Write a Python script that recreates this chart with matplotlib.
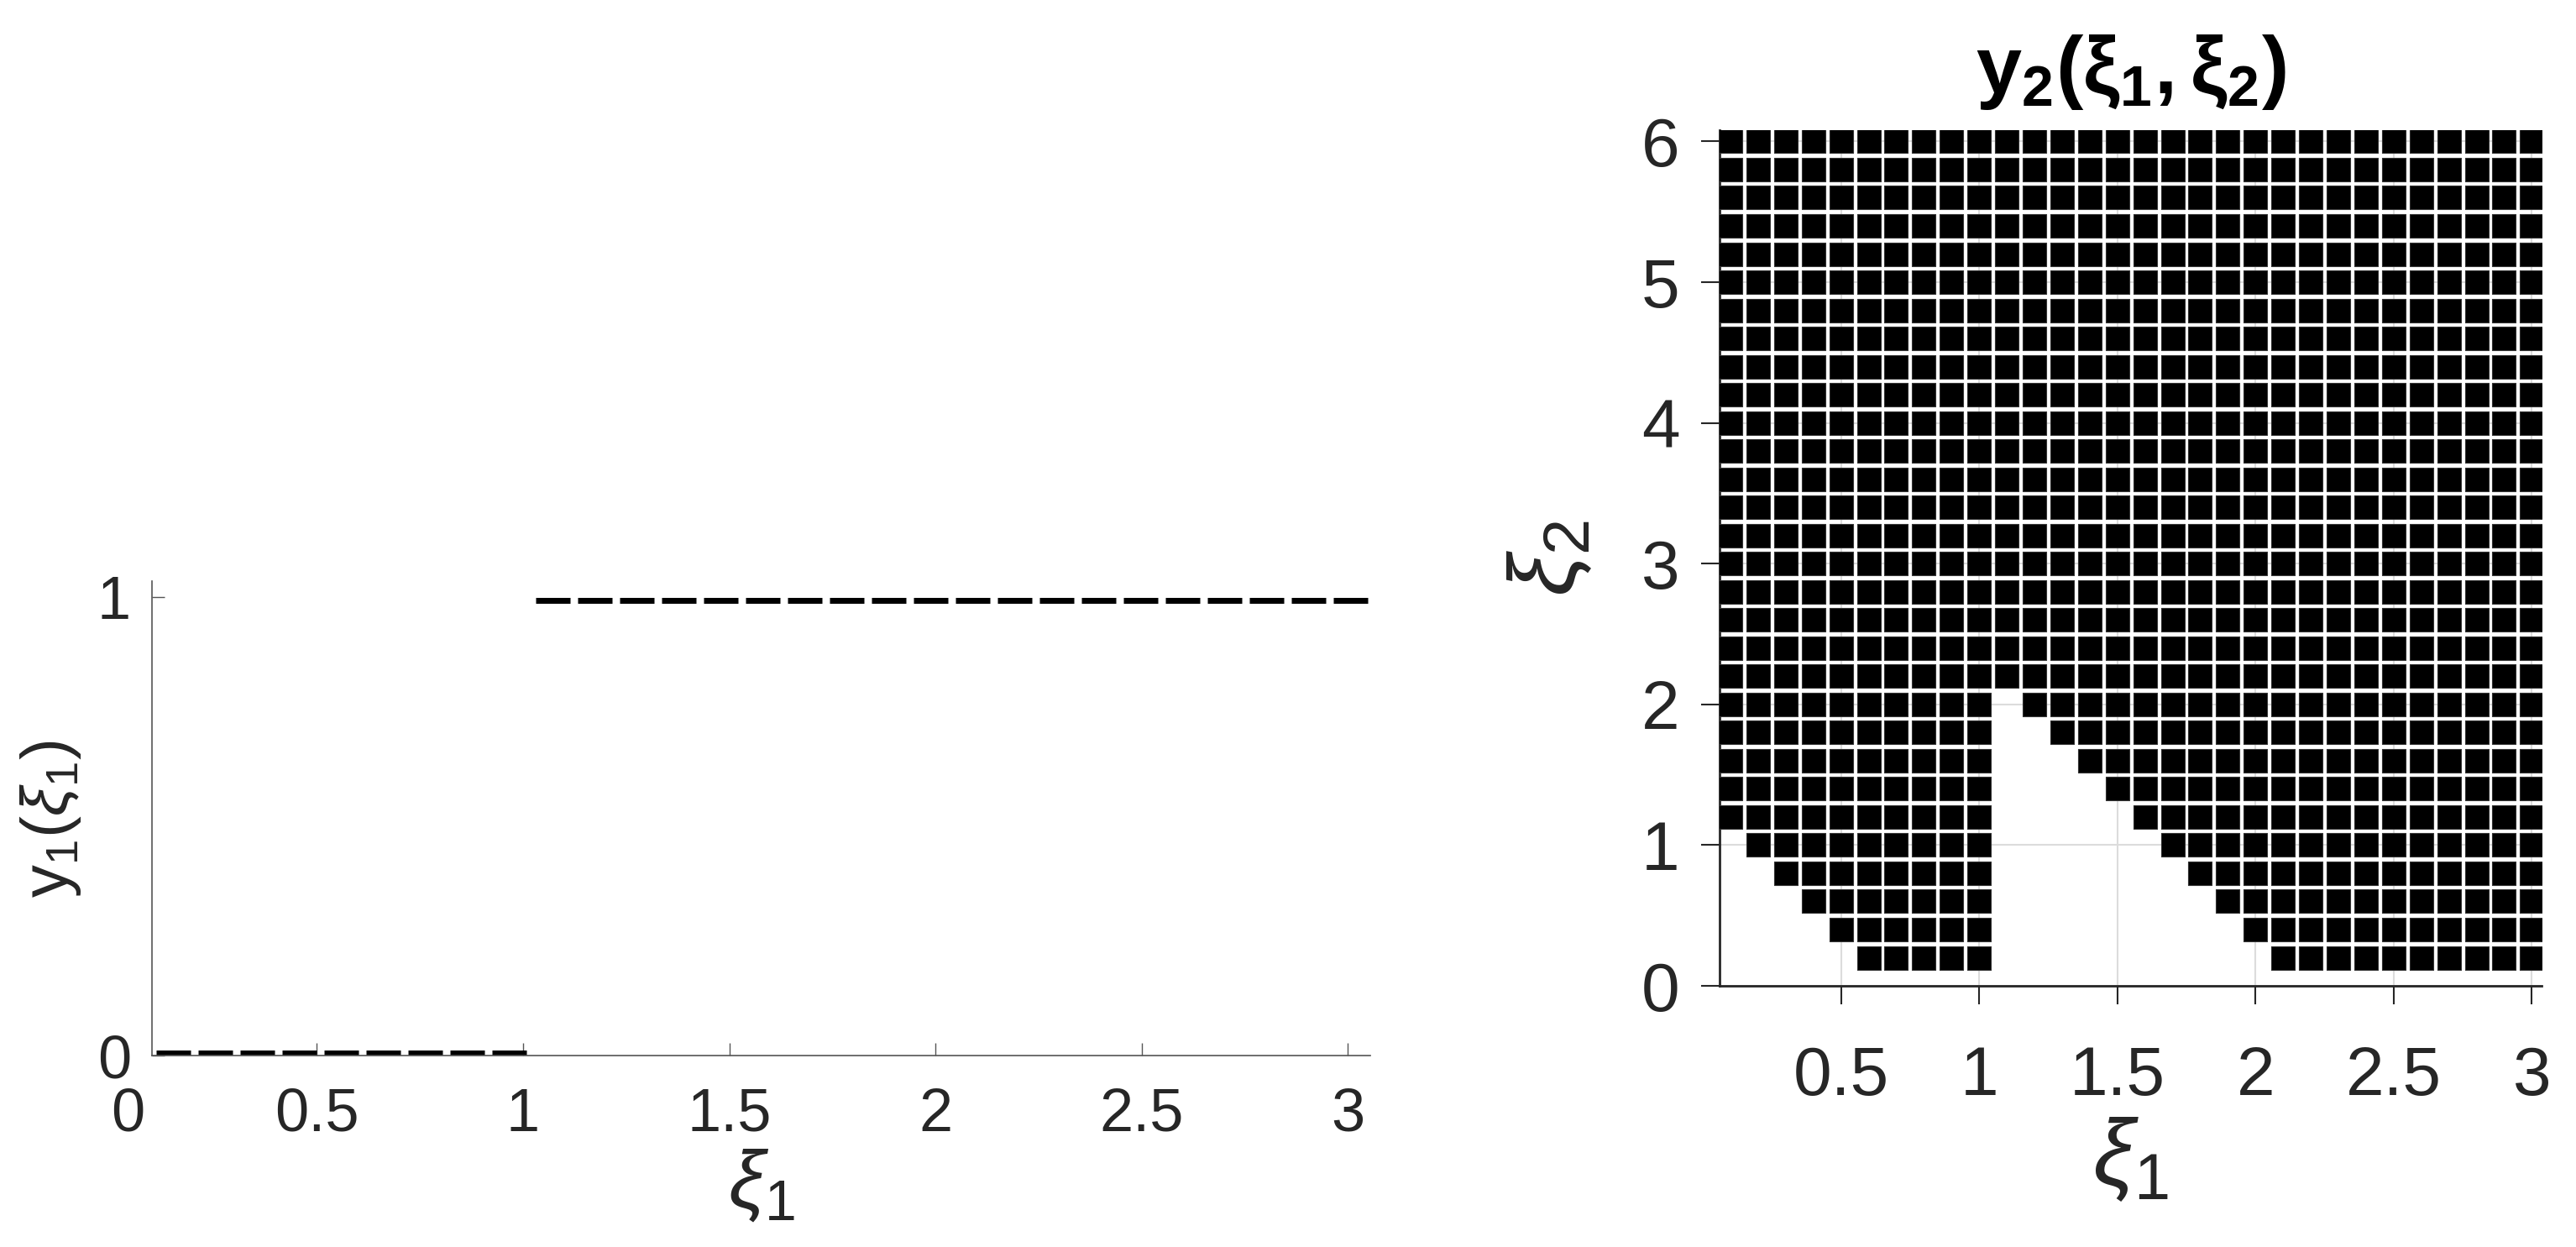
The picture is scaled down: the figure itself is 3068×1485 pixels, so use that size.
import matplotlib
matplotlib.use("Agg")
import matplotlib.pyplot as plt
import matplotlib.transforms as mtransforms

# Data
# left panel: y1(xi1) is a step, 0 below xi1 = 1 and 1 above
step_lo_x = [0.11, 1.01]
step_lo_y = [0, 0]
step_hi_x = [1.03, 3.05]
step_hi_y = [1, 1]

# right panel: grid of sample points, marked where y2 = 1
xi1_cols = [0.1, 0.2, 0.3, 0.4, 0.5, 0.6, 0.7, 0.8, 0.9, 1.0,
            1.1, 1.2, 1.3, 1.4, 1.5, 1.6, 1.7, 1.8, 1.9, 2.0,
            2.1, 2.2, 2.3, 2.4, 2.5, 2.6, 2.7, 2.8, 2.9, 3.0]
xi2_rows = [0.2, 0.4, 0.6, 0.8, 1.0, 1.2, 1.4, 1.6, 1.8, 2.0,
            2.2, 2.4, 2.6, 2.8, 3.0, 3.2, 3.4, 3.6, 3.8, 4.0,
            4.2, 4.4, 4.6, 4.8, 5.0, 5.2, 5.4, 5.6, 5.8, 6.0]
# lowest xi2 row that is filled, per xi1 column (all rows above it are filled)
lowest_filled = [1.2, 1.0, 0.8, 0.6, 0.4, 0.2, 0.2, 0.2, 0.2, 0.2,
                 2.2, 2.0, 1.8, 1.6, 1.4, 1.2, 1.0, 0.8, 0.6, 0.4,
                 0.2, 0.2, 0.2, 0.2, 0.2, 0.2, 0.2, 0.2, 0.2, 0.2]

left_xticks = [0.5, 1, 1.5, 2, 2.5, 3]
right_xticks = [0.5, 1, 1.5, 2, 2.5, 3]
right_yticks = [0, 1, 2, 3, 4, 5, 6]

pts_x, pts_y = [], []
for x, lo in zip(xi1_cols, lowest_filled):
    for y in xi2_rows:
        if y >= lo - 1e-9:
            pts_x.append(x)
            pts_y.append(y)

plt.rcParams['font.family'] = ['Liberation Sans', 'DejaVu Sans']
plt.rcParams['mathtext.fontset'] = 'custom'
plt.rcParams['mathtext.rm'] = 'Liberation Sans'
plt.rcParams['mathtext.it'] = 'Liberation Sans:italic'
plt.rcParams['mathtext.bf'] = 'Liberation Sans:bold'

DPI = 100
fig = plt.figure(figsize=(30.68, 14.85), dpi=DPI)
txt = '#262626'

# ---- left panel ----
ax1 = fig.add_axes([0.059, 0.1535, 0.473, 0.3805])
lw_px = 7
lw_pt = lw_px * 72 / DPI
dash = (41 / lw_px, 9 / lw_px)
up = mtransforms.ScaledTranslation(0, 3.5 / DPI, fig.dpi_scale_trans)
down = mtransforms.ScaledTranslation(0, -3.5 / DPI, fig.dpi_scale_trans)
l0, = ax1.plot(step_lo_x, step_lo_y, color='black', lw=lw_pt,
               transform=ax1.transData + up, solid_capstyle='butt')
l1, = ax1.plot(step_hi_x, step_hi_y, color='black', lw=lw_pt,
               transform=ax1.transData + down, solid_capstyle='butt')
for ln in (l0, l1):
    ln.set_dashes(dash)
    ln.set_dash_capstyle('butt')

ax1.set_xlim(0.10, 3.055)
ax1.set_ylim(0, 1.035)
ax1.set_xticks(left_xticks)
ax1.set_xticklabels([f'{t:g}' for t in left_xticks])
ax1.set_yticks([0, 1])
for s in ['top', 'right']:
    ax1.spines[s].set_visible(False)
for s in ['left', 'bottom']:
    ax1.spines[s].set_color('#555555')
    ax1.spines[s].set_linewidth(1.2)
ax1.tick_params(direction='in', length=11, width=1, colors='#555555',
                labelcolor=txt, labelsize=52)
ax1.tick_params(axis='x', pad=27)
ax1.tick_params(axis='y', pad=18)
# the 0 label sits left of where the axis starts
ax1.annotate('0', xy=(0, 0), xycoords='axes fraction', xytext=(-21, -27),
             textcoords='offset points', ha='center', va='top',
             fontsize=52, color=txt, annotation_clip=False)
ax1.set_xlabel(r'$\xi_1$', fontsize=70, color=txt, labelpad=4)
ax1.set_ylabel(r'y$_1$($\xi_1$)', fontsize=56, color=txt, labelpad=12)

# ---- right panel ----
ax2 = fig.add_axes([0.6675, 0.2094, 0.3191, 0.6862])
ax2.set_axisbelow(True)
ax2.grid(True, color='#dcdcdc', lw=1.5)
marker_pt = 27 * 72 / DPI
ax2.scatter(pts_x, pts_y, s=marker_pt ** 2, marker='s', c='black',
            edgecolors='#333333', linewidths=0.8, zorder=3)
ax2.set_xlim(0.06, 3.035)
ax2.set_ylim(0, 6.08)
ax2.set_xticks(right_xticks)
ax2.set_xticklabels([f'{t:g}' for t in right_xticks])
ax2.set_yticks(right_yticks)
for s in ['top', 'right']:
    ax2.spines[s].set_visible(False)
for s in ['left', 'bottom']:
    ax2.spines[s].set_color(txt)
    ax2.spines[s].set_linewidth(2)
ax2.tick_params(direction='out', length=16, width=1.5, colors=txt,
                labelsize=59)
ax2.tick_params(axis='x', pad=35)
ax2.tick_params(axis='y', pad=18)
ax2.set_xlabel(r'$\xi_1$', fontsize=80, color=txt, labelpad=6)
ax2.set_ylabel(r'$\xi_2$', fontsize=80, color=txt, labelpad=40)
ax2.set_title(r'$\mathbf{y_2(\xi_1,\xi_2)}$', fontsize=70, color='black', pad=32)

fig.savefig('out.png', dpi=DPI)
